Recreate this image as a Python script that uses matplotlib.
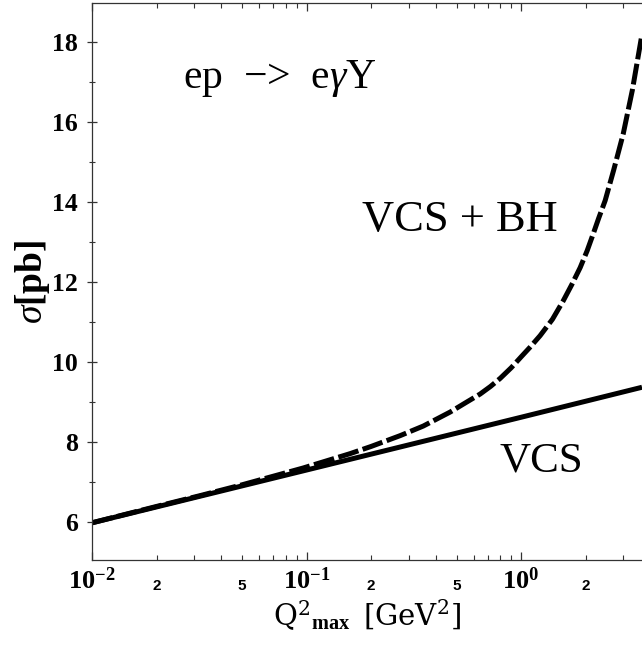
import numpy as np
import matplotlib
matplotlib.use('Agg')
import matplotlib.pyplot as plt

# ---- data ----
q2_vcs = [0.01, 0.1, 1.0, 3.66]
sigma_vcs = [5.98, 7.30, 8.62, 9.37]

q2_tot = [0.01, 0.02, 0.0319, 0.05, 0.0963, 0.1596, 0.2, 0.273, 0.35,
          0.467, 0.55, 0.644, 0.72, 0.798, 0.9, 1.0, 1.1, 1.226, 1.4,
          1.571, 1.72, 1.884, 2.03, 2.166, 2.3, 2.465, 2.7, 2.99, 3.3, 3.66]
sigma_tot = [5.98, 6.39, 6.66, 6.93, 7.35, 7.71, 7.89, 8.16, 8.40,
             8.75, 8.98, 9.20, 9.39, 9.59, 9.86, 10.13, 10.37, 10.66, 11.07,
             11.53, 11.93, 12.36, 12.78, 13.2, 13.6, 14.04, 14.8, 15.7, 16.8, 18.2]

y_ticks = [6, 8, 10, 12, 14, 16, 18]
y_minor = [7, 9, 11, 13, 15, 17]
x_major = [0.01, 0.1, 1.0]
x_major_labels = [r'$\mathbf{10^{-2}}$', r'$\mathbf{10^{-1}}$', r'$\mathbf{10^{0}}$']
x_minor = [0.02, 0.03, 0.04, 0.05, 0.06, 0.07, 0.08, 0.09,
           0.2, 0.3, 0.4, 0.5, 0.6, 0.7, 0.8, 0.9, 2.0, 3.0]
x_minor_labels = ['2', '', '', '5', '', '', '', '',
                  '2', '', '', '5', '', '', '', '', '2', '']

plt.rcParams['font.family'] = ['Liberation Serif', 'DejaVu Serif']
plt.rcParams['mathtext.fontset'] = 'custom'
plt.rcParams['mathtext.rm'] = 'DejaVu Serif'
plt.rcParams['mathtext.it'] = 'Liberation Serif:italic'
plt.rcParams['mathtext.bf'] = 'Liberation Serif:bold'

W, H = 642, 652
fig = plt.figure(figsize=(W / 100, H / 100), dpi=100)
ax = fig.add_axes([92 / W, 1 - 560 / H, 550 / W, 557 / H])

ax.plot(q2_vcs, sigma_vcs, color='black', lw=3.6, solid_capstyle='butt')
ax.plot(q2_tot, sigma_tot, color='black', lw=3.6, dashes=(4.2, 0.9),
        dash_capstyle='butt', solid_joinstyle='round')

ax.set_xscale('log')
ax.set_xlim(0.01, 3.66)
ax.set_ylim(5.05, 18.98)

for s in ['left', 'bottom', 'top']:
    ax.spines[s].set_linewidth(0.9)
    ax.spines[s].set_color('#333333')
ax.spines['right'].set_visible(False)

ax.set_yticks(y_ticks)
ax.set_yticks(y_minor, minor=True)
ax.set_yticklabels([str(v) for v in y_ticks], fontweight='bold', fontsize=18.5)
ax.tick_params(axis='y', which='major', direction='inout', length=7, width=0.9,
               pad=6.5, color='#333333', right=False)
ax.tick_params(axis='y', which='minor', direction='inout', length=5, width=0.8,
               color='#333333', right=False)

ax.set_xticks(x_major, labels=x_major_labels)
ax.set_xticks(x_minor, labels=x_minor_labels, minor=True)
ax.tick_params(axis='x', which='major', direction='in', length=6, width=0.9,
               top=True, labelsize=19, pad=5, color='#333333')
ax.tick_params(axis='x', which='minor', direction='in', length=3.5, width=0.8,
               top=True, labelsize=11, pad=14, color='#333333')
for lbl in ax.get_xticklabels(minor=True):
    lbl.set_fontfamily('Liberation Sans')
    lbl.set_fontweight('bold')

ax.set_xlabel(r'$\mathrm{Q}^{2}{}_{\mathbf{max}}\ \ \mathrm{[GeV^{2}]}$',
              fontsize=21, labelpad=3)
ax.set_ylabel(r'$\sigma$[pb]', fontsize=27, fontweight='bold', labelpad=0)

def fig_text(px, py, s, **kw):
    fig.text(px / W, 1 - py / H, s, ha='left', va='baseline', **kw)

fig_text(183, 88, 'ep  −>  e$\\gamma$Y', fontsize=30)
fig_text(362, 231, 'VCS + BH', fontsize=32)
fig_text(500, 472, 'VCS', fontsize=31)

fig.savefig('out.png', dpi=100)
